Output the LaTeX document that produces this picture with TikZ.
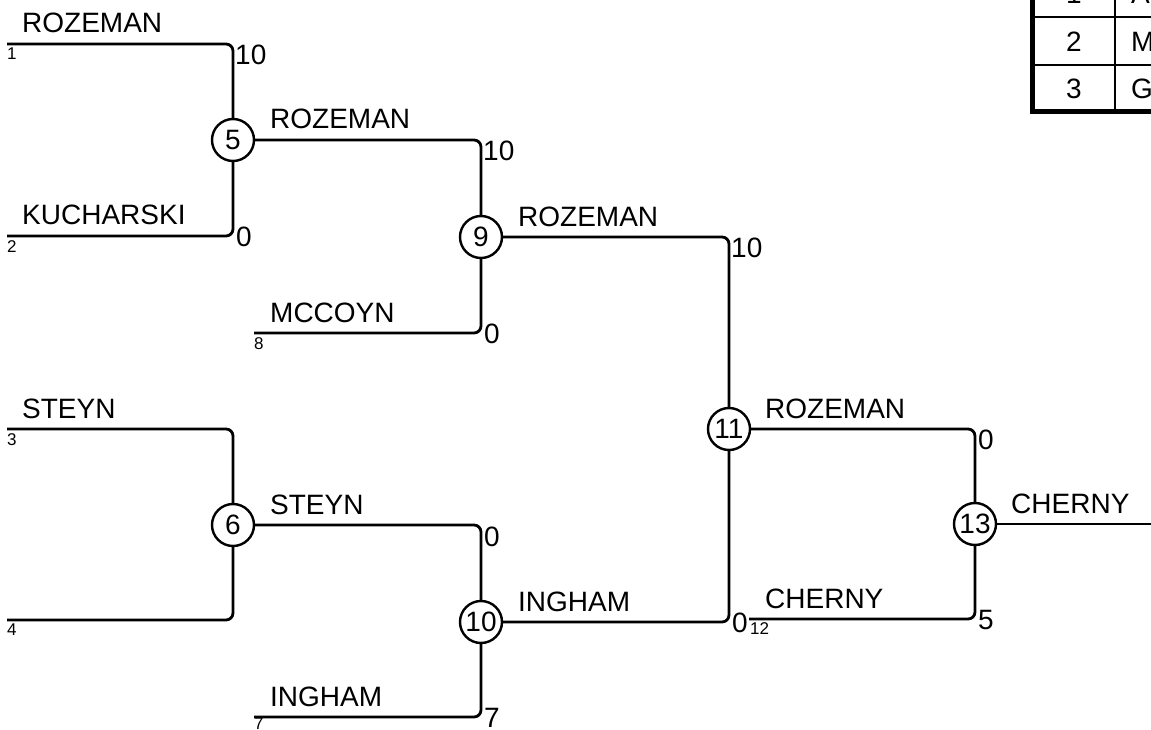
\documentclass[tikz,border=0pt]{standalone}
\usepackage{fontspec}
\setmainfont{Liberation Sans}
\begin{document}
\begin{tikzpicture}[x=1pt,y=-1pt,
  br/.style={line width=2.8pt, rounded corners=7pt},
  mt/.style={circle, draw, line width=2.4pt, minimum size=42pt, inner sep=0pt, font=\fontsize{28}{32}\selectfont},
  nm/.style={anchor=base west, inner sep=0pt, font=\fontsize{28}{32}\selectfont},
  sc/.style={anchor=base west, inner sep=0pt, font=\fontsize{28}{32}\selectfont},
  sd/.style={anchor=north west, inner sep=0pt, font=\fontsize{17}{20}\selectfont},
  tb/.style={inner sep=0pt, font=\fontsize{28}{32}\selectfont}]
\useasboundingbox (0,0) rectangle (1151,730);
\clip (0,0) rectangle (1151,730);
% match circles
\node[mt] (m5) at (233,140) {5};
\node[mt] (m6) at (233,525) {6};
\node[mt] (m9) at (481,237) {9};
\node[mt] (m10) at (481,622) {10};
\node[mt] (m11) at (729,429) {11};
\node[mt] (m13) at (975,524) {13};
% line starts
\coordinate (s1) at (7,44);
\coordinate (s2) at (7,236);
\coordinate (s3) at (7,429);
\coordinate (s4) at (7,620);
\coordinate (s8) at (254,333);
\coordinate (s7) at (254,717);
\coordinate (s12) at (749,619);
\coordinate (fin) at (1151,524);
% connectors
\draw[br] (s1) -| (m5);
\draw[br] (s2) -| (m5);
\draw[br] (s3) -| (m6);
\draw[br] (s4) -| (m6);
\draw[br] (m5) -| (m9);
\draw[br] (s8) -| (m9);
\draw[br] (m6) -| (m10);
\draw[br] (s7) -| (m10);
\draw[br] (m9) -| (m11);
\draw[br] (m10) -| (m11);
\draw[br] (m11) -| (m13);
\draw[br] (s12) -| (m13);
\draw[br] (m13) -- (fin);
% names
\node[nm] (n1) at (22,33) {ROZEMAN};
\node[nm] (n2) at (22,225) {KUCHARSKI};
\node[nm] (n3) at (22,418) {STEYN};
\node[nm] (n5) at (270,129) {ROZEMAN};
\node[nm] (n8) at (270,322) {MCCOYN};
\node[nm] (n6) at (270,514) {STEYN};
\node[nm] (n7) at (270,706) {INGHAM};
\node[nm] (n9) at (518,226) {ROZEMAN};
\node[nm] (n10) at (518,611) {INGHAM};
\node[nm] (n11) at (765,418) {ROZEMAN};
\node[nm] (n12) at (765,608) {CHERNY};
\node[nm] (n13) at (1011,513) {CHERNY};
% scores
\node[sc] (c1) at (235,65) {10};
\node[sc] (c2) at (236,246) {0};
\node[sc] (c5) at (483,161) {10};
\node[sc] (c8) at (484,343) {0};
\node[sc] (c6) at (484,546) {0};
\node[sc] (c7) at (484,727) {7};
\node[sc] (c9) at (731,258) {10};
\node[sc] (c10) at (732,632) {0};
\node[sc] (c11) at (978,449) {0};
\node[sc] (c12) at (978,629) {5};
% seeds
\node[sd] (d1) at (7,48) {1};
\node[sd] (d2) at (7,240) {2};
\node[sd] (d3) at (7,433) {3};
\node[sd] (d4) at (7,624) {4};
\node[sd] (d8) at (254,337) {8};
\node[sd] (d7) at (254,718) {7};
\node[sd] (d12) at (750,622) {12};
% table
\draw[line width=2pt] (1032,17) -- (1160,17);
\draw[line width=2pt] (1032,65) -- (1160,65);
\draw[line width=2pt] (1115,-10) -- (1115,112);
\draw[line width=5pt] (1032,-10) -- (1032,112) -- (1160,112);
\node[tb] (t1) at (1074,-6) {1};
\node[tb] (t2) at (1074,42) {2};
\node[tb] (t3) at (1074,89) {3};
\node[tb, anchor=west] (u1) at (1131,-6) {A};
\node[tb, anchor=west] (u2) at (1131,42) {M};
\node[tb, anchor=west] (u3) at (1131,89) {G};
\end{tikzpicture}
\end{document}
